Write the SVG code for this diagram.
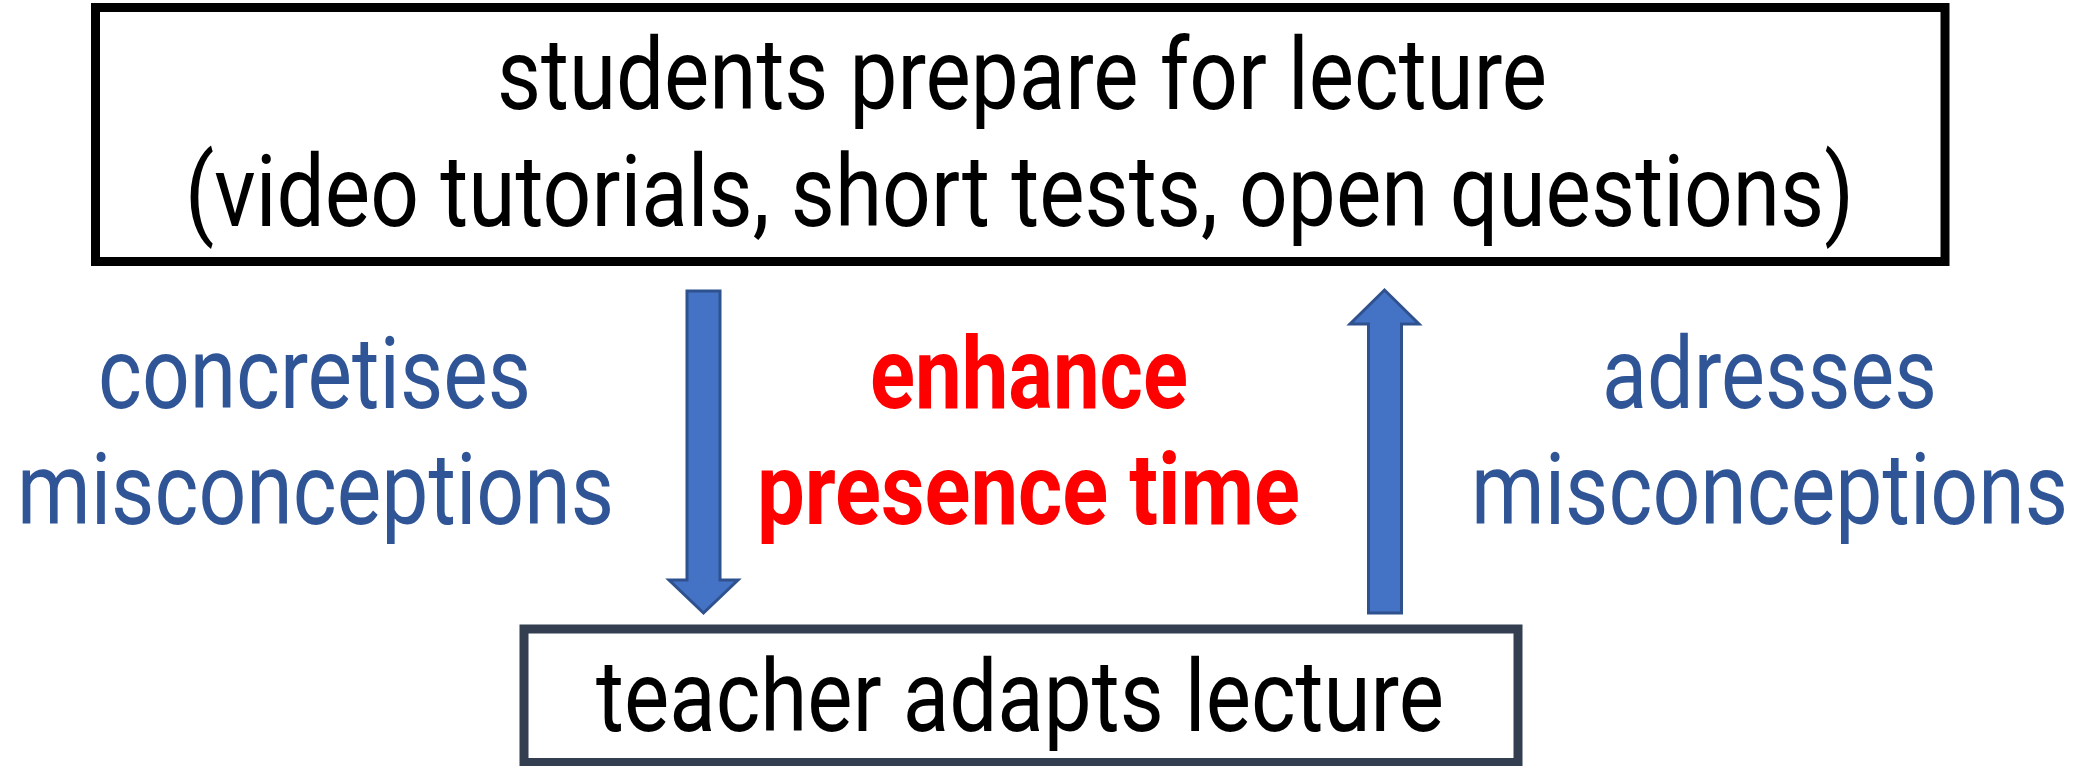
<svg xmlns="http://www.w3.org/2000/svg" width="2083" height="766" viewBox="0 0 2083 766">
  <style>
    text { font-family: "Roboto", "Liberation Sans", sans-serif; font-size: 100px; }
    .box { fill: #FFFFFF; stroke-width: 9; }
    .black { fill: #000000; }
    .blue { fill: #2F5597; }
    .red { fill: #FF0000; font-weight: bold; }
    .arrow { fill: #4472C4; stroke: #2F528F; stroke-width: 3; }
  </style>
  <rect x="0" y="0" width="2083" height="766" fill="#FFFFFF"/>
  <g id="node-students">
    <rect class="box" x="95.5" y="7.5" width="1849.5" height="254" stroke="#000000"/>
    <text class="black" x="497" y="109" textLength="1050" lengthAdjust="spacingAndGlyphs">students prepare for lecture</text>
    <text class="black" x="185" y="226" textLength="1669" lengthAdjust="spacingAndGlyphs">(video tutorials, short tests, open questions)</text>
  </g>
  <g id="node-teacher">
    <rect class="box" x="524" y="629" width="994" height="133.5" stroke="#333F50"/>
    <text class="black" x="596" y="731" textLength="848" lengthAdjust="spacingAndGlyphs">teacher adapts lecture</text>
  </g>
  <g id="label-left">
    <text class="blue" x="98" y="408" textLength="433" lengthAdjust="spacingAndGlyphs">concretises</text>
    <text class="blue" x="17" y="524" textLength="597" lengthAdjust="spacingAndGlyphs">misconceptions</text>
  </g>
  <g id="label-center">
    <text class="red" x="870" y="408" textLength="318" lengthAdjust="spacingAndGlyphs">enhance</text>
    <text class="red" x="757" y="524" textLength="543" lengthAdjust="spacingAndGlyphs">presence time</text>
  </g>
  <g id="label-right">
    <text class="blue" x="1602" y="408" textLength="335" lengthAdjust="spacingAndGlyphs">adresses</text>
    <text class="blue" x="1471" y="524" textLength="597" lengthAdjust="spacingAndGlyphs">misconceptions</text>
  </g>
  <g id="connectors">
    <path class="arrow" d="M687,291 H720 V580 H738 L703.5,613 L669,580 H687 Z"/>
    <path class="arrow" d="M1368.5,613 H1401.5 V324 H1419 L1384.5,290 L1350,324 H1368.5 Z"/>
  </g>
</svg>
